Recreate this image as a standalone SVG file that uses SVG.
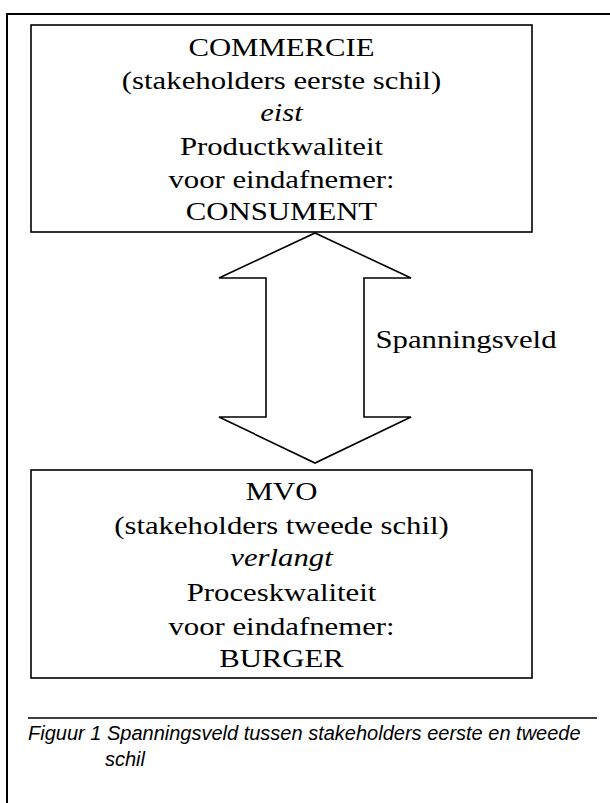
<svg xmlns="http://www.w3.org/2000/svg" width="610" height="803" viewBox="0 0 610 803">
<style>
.box{fill:#fff;stroke:#000;stroke-width:1.6}
.t{font-family:"Liberation Serif","Times New Roman",serif;font-size:25px;fill:#000;text-anchor:middle}
.i{font-style:italic}
.cap{font-family:"Liberation Sans",Arial,sans-serif;font-size:20px;font-style:italic;fill:#000}
</style>
<rect width="610" height="803" fill="#fff"/>
<path d="M7,803 V14 H610" fill="none" stroke="#000" stroke-width="2"/>
<g id="connectors">
<polygon points="315,233 411,278 364,278 364,417 411,417 315,463 219,417 266,417 266,278 219,278" fill="#fff" stroke="#000" stroke-width="1.6" stroke-linejoin="miter"/>
<g transform="translate(375.5,0) scale(1.23,1)"><text class="t" style="text-anchor:start" x="0" y="348">Spanningsveld</text></g>
</g>
<g id="commercie">
<rect class="box" x="31" y="25" width="501" height="207"/>
<g transform="translate(281.5,0) scale(1.23,1)">
<text class="t" x="0" y="56">COMMERCIE</text>
<text class="t" x="0" y="89">(stakeholders eerste schil)</text>
<text class="t i" x="0" y="121">eist</text>
<text class="t" x="0" y="155">Productkwaliteit</text>
<text class="t" x="0" y="188">voor eindafnemer:</text>
<text class="t" x="0" y="220">CONSUMENT</text>
</g>
</g>
<g id="mvo">
<rect class="box" x="31" y="470" width="501" height="208"/>
<g transform="translate(281.5,0) scale(1.23,1)">
<text class="t" x="0" y="500">MVO</text>
<text class="t" x="0" y="534">(stakeholders tweede schil)</text>
<text class="t i" x="0" y="566">verlangt</text>
<text class="t" x="0" y="601">Proceskwaliteit</text>
<text class="t" x="0" y="635">voor eindafnemer:</text>
<text class="t" x="0" y="667">BURGER</text>
</g>
</g>
<g id="caption">
<line x1="28" y1="718" x2="597" y2="718" stroke="#000" stroke-width="1.6"/>
<text class="cap" x="28" y="740">Figuur 1 Spanningsveld tussen stakeholders eerste en tweede</text>
<text class="cap" x="105" y="766">schil</text>
</g>
</svg>
